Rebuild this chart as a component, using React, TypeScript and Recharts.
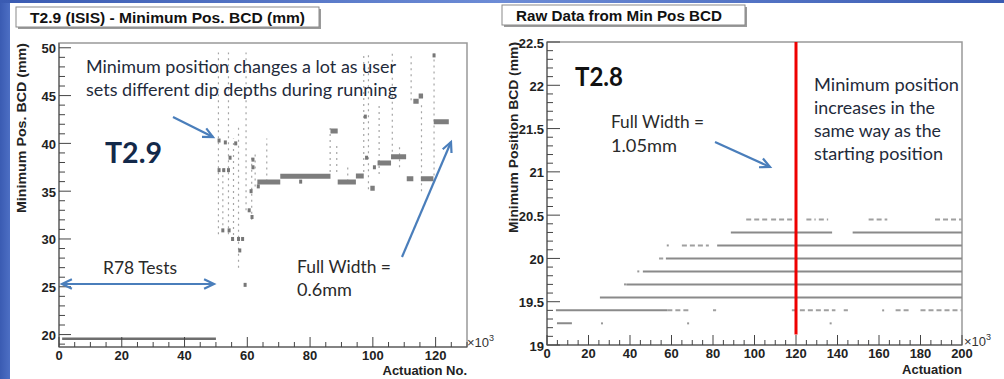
import React from "react";
import {
  ComposedChart,
  Line,
  Scatter,
  XAxis,
  YAxis,
  ReferenceArea,
} from "recharts";

// ---------------- LEFT PANEL DATA (T2.9, x in units of 10^3 actuations) ----------------
// R78 tests baseline: [start, end, level]
const leftBaseline: [number, number, number][] = [[1, 50, 19.55]];
// plateaus of minimum position: [start, end, level]
const leftPlateaus: [number, number, number][] = [
  [63.2, 70.5, 35.95],
  [70.5, 86.5, 36.55],
  [86.5, 88.8, 41.3],
  [88.8, 94.6, 35.95],
  [94.6, 97.1, 36.6],
  [99.2, 100.6, 35.3],
  [101.5, 105.8, 37.95],
  [105.8, 110.6, 38.6],
  [110.8, 112.9, 36.3],
  [112.9, 114.6, 44.4],
  [114.6, 116.0, 44.95],
  [115.3, 119.3, 36.3],
  [119.4, 124.2, 42.25],
];
// scattered vertical streaks: [x, low, high]
const leftStreaks: [number, number, number][] = [
  [50.8, 30.5, 49.5],
  [52.2, 30.8, 37.5],
  [54.0, 30.5, 49.5],
  [55.6, 29.8, 40.5],
  [57.2, 27.0, 42.0],
  [59.6, 33.0, 49.5],
  [61.4, 32.0, 38.5],
  [62.5, 35.5, 39.0],
  [66.2, 36.0, 40.5],
  [86.4, 37.0, 41.8],
  [88.5, 37.0, 40.0],
  [92.0, 36.0, 37.5],
  [97.1, 37.0, 49.5],
  [98.6, 35.2, 49.5],
  [102.0, 36.8, 44.0],
  [106.2, 38.5, 49.5],
  [108.5, 37.5, 40.0],
  [112.2, 44.5, 49.5],
  [115.5, 35.0, 44.3],
  [119.5, 36.0, 49.5],
];
// isolated darker readings: [x, y]
const leftBlobs: [number, number][] = [
  [52.2, 30.9], [54.2, 30.9], [55.3, 30.0], [57.2, 30.0], [58.5, 30.0],
  [59.3, 25.2], [57.6, 28.8], [60.6, 33.0], [61.5, 32.3], [61.2, 35.0],
  [61.8, 37.5], [61.8, 38.3], [56.3, 40.0], [51.0, 40.3], [53.0, 40.1],
  [54.5, 38.5], [51.0, 37.2], [52.5, 37.2], [54.0, 37.2], [97.6, 42.8],
  [98.0, 38.5], [100.5, 37.5], [119.5, 49.2], [63.5, 35.5], [77.0, 36.0],
];

// ---------------- RIGHT PANEL DATA (T2.8, x in units of 10^3 actuations) ----------------
// continuous readings: [start, end, level]
const rightSolidRuns: [number, number, number][] = [
  [4.8, 12, 19.25],
  [4.3, 58, 19.4],
  [25.5, 200, 19.55],
  [38.2, 200, 19.7],
  [46.2, 200, 19.85],
  [57.3, 200, 20.0],
  [82.0, 200, 20.15],
  [88.6, 137.4, 20.3],
  [147.3, 200, 20.3],
];
// intermittent readings: [start, end, level]
const rightDottedRuns: [number, number, number][] = [
  [58, 69, 19.4],
  [80, 81.5, 19.4],
  [118, 139, 19.4],
  [143, 145, 19.4],
  [168, 175, 19.4],
  [180, 200, 19.4],
  [54, 56, 20.0],
  [65, 78, 20.15],
  [96, 106.5, 20.45],
  [108, 118.7, 20.45],
  [125, 129.5, 20.45],
  [131, 135.5, 20.45],
  [155, 164, 20.45],
  [187, 200, 20.45],
];
const rightDots: [number, number][] = [
  [26.5, 19.25], [68, 19.25], [136.7, 19.25], [44, 19.85], [37.6, 19.7],
  [58.2, 20.15], [162, 19.4],
];
const redLineX = 120;
const redLineSpan: [number, number] = [19.12, 22.5];

// ---------------- AXES ----------------
const leftXDomain: [number, number] = [0, 130];
const leftYDomain: [number, number] = [18.7, 50.5];
const rightXDomain: [number, number] = [0, 200];
const rightYDomain: [number, number] = [19, 22.5];

const leftXMajor = [0, 20, 40, 60, 80, 100, 120];
const leftYMajor = [20, 25, 30, 35, 40, 45, 50];
const rightXMajor = [0, 20, 40, 60, 80, 100, 120, 140, 160, 180, 200];
const rightYMajor = [19, 19.5, 20, 20.5, 21, 21.5, 22, 22.5];

function tickRange(a: number, b: number, step: number) {
  const out: number[] = [];
  const n = Math.round((b - a) / step);
  for (let i = 0; i <= n; i++) out.push(Math.round((a + i * step) * 1000) / 1000);
  return out;
}
const leftXTicks = tickRange(0, 130, 5);
const leftYTicks = tickRange(19, 50, 1);
const rightXTicks = tickRange(0, 200, 5);
const rightYTicks = tickRange(19, 22.5, 0.1);

// ---------------- helpers ----------------
const segs = (list: [number, number, number][]) => {
  const out: { x: number; y: number | null }[] = [];
  list.forEach(([a, b, y]) => {
    out.push({ x: a, y }, { x: b, y }, { x: b, y: null });
  });
  return out;
};
const vsegs = (list: [number, number, number][]) => {
  const out: { x: number; y: number | null }[] = [];
  list.forEach(([x, lo, hi]) => {
    out.push({ x, y: lo }, { x, y: hi }, { x, y: null });
  });
  return out;
};
const pts = (list: [number, number][]) => list.map(([x, y]) => ({ x, y }));

const isMajor = (majors: number[], v: number) => majors.some((m) => Math.abs(m - v) < 1e-6);
const AXIS_FONT = "'Liberation Sans', Arial, Helvetica, sans-serif";
const NOTE_FONT = "Lato, 'Open Sans', sans-serif";

const makeYTick = (majors: number[], majLen: number, minLen: number) => (props: any) => {
  const { x, y, payload } = props;
  const v = payload.value;
  const maj = isMajor(majors, v);
  return (
    <g>
      <line x1={x} x2={x + (maj ? majLen : minLen)} y1={y} y2={y} stroke="#444" strokeWidth={1} />
      {maj && (
        <text x={x - 3} y={y + 1} dominantBaseline="central" textAnchor="end" fontFamily={AXIS_FONT}
          fontWeight="bold" fontSize={13} fill="#222">
          {String(v)}
        </text>
      )}
    </g>
  );
};
const makeXTick = (majors: number[], majLen: number, minLen: number) => (props: any) => {
  const { x, y, payload } = props;
  const v = payload.value;
  const maj = isMajor(majors, v);
  return (
    <g>
      <line x1={x} x2={x} y1={y} y2={y - (maj ? majLen : minLen)} stroke="#444" strokeWidth={1} />
      {maj && (
        <text x={x} y={y + 13} textAnchor="middle" fontFamily={AXIS_FONT} fontWeight="bold"
          fontSize={13} fill="#222">
          {String(v)}
        </text>
      )}
    </g>
  );
};

const blob = (props: any) => (
  <rect x={props.cx - 1.5} y={props.cy - 2} width={3} height={4} fill="#777" />
);
const dot = (props: any) => (
  <rect x={props.cx - 1} y={props.cy - 1} width={2} height={2} fill="#999" />
);

function Arrow({ x1, y1, x2, y2, both = false }: any) {
  const head = (ax: number, ay: number, bx: number, by: number) => {
    const ang = Math.atan2(by - ay, bx - ax);
    const L = 11;
    const s = Math.PI / 7;
    const p1 = [bx - L * Math.cos(ang - s), by - L * Math.sin(ang - s)];
    const p2 = [bx - L * Math.cos(ang + s), by - L * Math.sin(ang + s)];
    return (
      <polyline points={`${p1[0]},${p1[1]} ${bx},${by} ${p2[0]},${p2[1]}`} fill="none"
        stroke="#4a7ebb" strokeWidth={2.2} strokeLinejoin="miter" />
    );
  };
  return (
    <g>
      <line x1={x1} y1={y1} x2={x2} y2={y2} stroke="#4a7ebb" strokeWidth={2.2} />
      {head(x1, y1, x2, y2)}
      {both && head(x2, y2, x1, y1)}
    </g>
  );
}

function TitleBox({ x, y, w, h, text, tx, ty, tl }: any) {
  return (
    <g>
      <rect x={x + 2} y={y + 2} width={w} height={h} fill="#9a9a9a" />
      <rect x={x} y={y} width={w} height={h} fill="#fff" stroke="#8a8a8a" strokeWidth={1} />
      <text x={tx} y={ty} fontFamily={AXIS_FONT} fontWeight="bold" fontSize={14} fill="#111"
        textLength={tl} lengthAdjust="spacingAndGlyphs">
        {text}
      </text>
    </g>
  );
}

function Note({ x, y, w, size = 18, color = "#1f2b3b", weight = "normal", children }: any) {
  return (
    <text x={x} y={y} fontFamily={NOTE_FONT} fontSize={size} fontWeight={weight} fill={color}
      textLength={w} lengthAdjust="spacingAndGlyphs">
      {children}
    </text>
  );
}

export default function App() {
  return (
    <div style={{ position: "absolute", left: 0, top: 0, width: 1004, height: 379, background: "#fff", overflow: "hidden" }}>
      {/* slide border */}
      <div style={{ position: "absolute", left: 0, top: 0, width: 10, height: 379, background: "linear-gradient(to right,#3a5bb2,#4d6fc4)" }} />
      <div style={{ position: "absolute", left: 0, top: 0, width: 1004, height: 3, background: "linear-gradient(to right,#3a5bb2,#6d8cd6 50%,#3a5bb2)" }} />

      {/* LEFT CHART */}
      <div style={{ position: "absolute", left: 0, top: 0 }}>
        <ComposedChart width={480} height={379} margin={{ top: 43, right: 13, bottom: 0, left: 0 }}>
          <XAxis type="number" dataKey="x" domain={leftXDomain} allowDataOverflow ticks={leftXTicks}
            interval={0} tickSize={0} tickMargin={0} height={32} axisLine={{ stroke: "#555" }}
            tickLine={false} tick={makeXTick(leftXMajor, 10, 5)} />
          <YAxis type="number" dataKey="y" domain={leftYDomain} allowDataOverflow ticks={leftYTicks}
            interval={0} tickSize={0} tickMargin={0} width={59} axisLine={{ stroke: "#555" }}
            tickLine={false} tick={makeYTick(leftYMajor, 12, 6)} />
          <ReferenceArea x1={leftXDomain[0]} x2={leftXDomain[1]} y1={leftYDomain[0]} y2={leftYDomain[1]}
            fill="none" stroke="#999" strokeWidth={1.5} fillOpacity={0} />
          <Line data={vsegs(leftStreaks)} dataKey="y" type="linear" stroke="#a5a5a5" strokeWidth={1.2}
            strokeDasharray="2 4" dot={false} connectNulls={false} isAnimationActive={false} />
          <Line data={segs(leftBaseline)} dataKey="y" type="linear" stroke="#6e6e6e" strokeWidth={2.5}
            dot={false} connectNulls={false} isAnimationActive={false} />
          <Line data={segs(leftPlateaus)} dataKey="y" type="linear" stroke="#7d7d7d" strokeWidth={5}
            dot={false} connectNulls={false} isAnimationActive={false} />
          <Scatter data={pts(leftBlobs)} shape={blob} isAnimationActive={false} />
        </ComposedChart>
      </div>

      {/* RIGHT CHART */}
      <div style={{ position: "absolute", left: 480, top: 0 }}>
        <ComposedChart width={524} height={379} margin={{ top: 42, right: 42, bottom: 0, left: 0 }}>
          <XAxis type="number" dataKey="x" domain={rightXDomain} allowDataOverflow ticks={rightXTicks}
            interval={0} tickSize={0} tickMargin={0} height={34} axisLine={{ stroke: "#555" }}
            tickLine={false} tick={makeXTick(rightXMajor, 10, 5)} />
          <YAxis type="number" dataKey="y" domain={rightYDomain} allowDataOverflow ticks={rightYTicks}
            interval={0} tickSize={0} tickMargin={0} width={67} axisLine={{ stroke: "#555" }}
            tickLine={false} tick={makeYTick(rightYMajor, 13, 6)} />
          <ReferenceArea x1={rightXDomain[0]} x2={rightXDomain[1]} y1={rightYDomain[0]} y2={rightYDomain[1]}
            fill="none" stroke="#999" strokeWidth={1.5} fillOpacity={0} />
          <Line data={segs(rightDottedRuns)} dataKey="y" type="linear" stroke="#a0a0a0" strokeWidth={2}
            strokeDasharray="5 3" dot={false} connectNulls={false} isAnimationActive={false} />
          <Line data={segs(rightSolidRuns)} dataKey="y" type="linear" stroke="#8a8a8a" strokeWidth={2}
            dot={false} connectNulls={false} isAnimationActive={false} />
          <Scatter data={pts(rightDots)} shape={dot} isAnimationActive={false} />
          <Line data={[{ x: redLineX, y: redLineSpan[0] }, { x: redLineX, y: redLineSpan[1] }]} dataKey="y"
            type="linear" stroke="#ee0000" strokeWidth={3} dot={false} isAnimationActive={false} />
        </ComposedChart>
      </div>

      {/* OVERLAY: titles, axis titles, annotations */}
      <svg width={1004} height={379} style={{ position: "absolute", left: 0, top: 0, pointerEvents: "none" }}>
        <TitleBox x={16} y={7} w={303} h={20} tx={30} ty={22.5} tl={275} text="T2.9 (ISIS) - Minimum Pos. BCD (mm)" />
        <TitleBox x={502} y={5} w={243} h={20} tx={516} ty={21} tl={206} text="Raw Data from Min Pos BCD" />

        {/* axis titles */}
        <text transform="translate(21,43) rotate(-90)" textAnchor="end" dominantBaseline="central"
          fontFamily={AXIS_FONT} fontWeight="bold" fontSize={13} fill="#222" textLength={170}
          lengthAdjust="spacingAndGlyphs">Minimum Pos. BCD (mm)</text>
        <text transform="translate(513,42) rotate(-90)" textAnchor="end" dominantBaseline="central"
          fontFamily={AXIS_FONT} fontWeight="bold" fontSize={13} fill="#222" textLength={191}
          lengthAdjust="spacingAndGlyphs">Minimum Position BCD (mm)</text>
        <text x={467} y={375} textAnchor="end" fontFamily={AXIS_FONT} fontWeight="bold" fontSize={13}
          fill="#222">Actuation No.</text>
        <text x={962} y={374} textAnchor="end" fontFamily={AXIS_FONT} fontWeight="bold" fontSize={13}
          fill="#222">Actuation</text>
        <text x={467} y={347} fontFamily={AXIS_FONT} fontSize={13} fill="#333">
          ×10<tspan dy={-6} fontSize={9}>3</tspan>
        </text>
        <text x={964} y={346} fontFamily={AXIS_FONT} fontSize={13} fill="#333">
          ×10<tspan dy={-6} fontSize={9}>3</tspan>
        </text>

        {/* left annotations */}
        <Note x={86} y={73} w={310}>Minimum position changes a lot as user</Note>
        <Note x={86} y={96} w={311}>sets different dip depths during running</Note>
        <Note x={105} y={163} w={57} size={29} weight="bold" color="#13294a">T2.9</Note>
        <Note x={103} y={274} w={74} color="#2a2a2a">R78 Tests</Note>
        <Note x={297} y={273} w={94} color="#2a2a2a">Full Width =</Note>
        <Note x={297} y={296} w={55} color="#2a2a2a">0.6mm</Note>
        <Arrow x1={173} y1={117} x2={213} y2={137} />
        <Arrow x1={62} y1={284} x2={214} y2={284} both />
        <Arrow x1={402} y1={257} x2={451} y2={142} />

        {/* right annotations */}
        <Note x={575} y={86} w={48} size={26} weight="bold" color="#111">T2.8</Note>
        <Note x={611} y={128} w={93} color="#2a2a2a">Full Width =</Note>
        <Note x={611} y={152} w={66} color="#2a2a2a">1.05mm</Note>
        <Arrow x1={715} y1={142} x2={770} y2={167} />
        <Note x={814} y={91} w={145}>Minimum position</Note>
        <Note x={814} y={114} w={121}>increases in the</Note>
        <Note x={814} y={137} w={127}>same way as the</Note>
        <Note x={814} y={160} w={129}>starting position</Note>
      </svg>
    </div>
  );
}
